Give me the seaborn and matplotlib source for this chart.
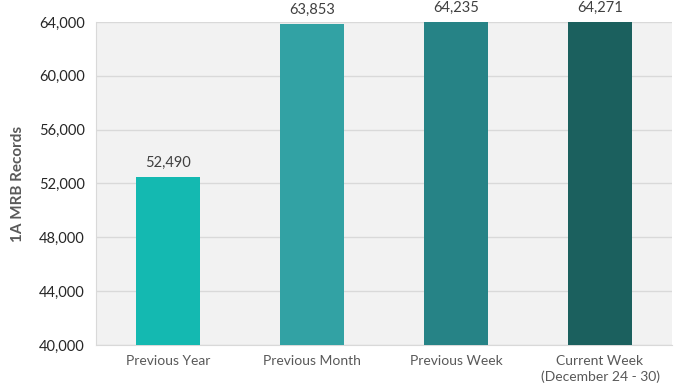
import numpy as np
import pandas as pd
import matplotlib
matplotlib.use("Agg")
import matplotlib.pyplot as plt
import seaborn as sns

categories = ["Previous Year", "Previous Month", "Previous Week", "Current Week\n(December 24 - 30)"]
records = [52490, 63853, 64235, 64271]
colors = ["#14b9b1", "#32a2a4", "#268386", "#1b605e"]
yticks = [40000, 44000, 48000, 52000, 56000, 60000, 64000]

sns.set_style("white")
plt.rcParams['font.family'] = ['Lato', 'DejaVu Sans']

df = pd.DataFrame({"cat": categories, "val": records})

fig = plt.figure(figsize=(6.9, 3.92), dpi=100)
ax = fig.add_axes([0.139, 0.12, 0.835, 0.824])
ax.set_facecolor("#f2f2f2")

sns.barplot(data=df, x="cat", y="val", hue="cat", palette=colors, legend=False,
            width=0.45, saturation=1, linewidth=0, ax=ax, zorder=3)

ax.set_ylim(40000, 64000)
ax.set_yticks(yticks)
ax.set_yticklabels([f"{t:,}" for t in yticks], fontsize=10.5, color="#262626")
ax.set_xticks(range(len(categories)))
ax.set_xticklabels(categories, fontsize=10, color="#595959", linespacing=1.4)
ax.tick_params(axis="x", length=0, pad=7)
ax.tick_params(axis="y", length=0, pad=8)
ax.grid(axis="y", color="#d9d9d9", linewidth=1, zorder=0)
ax.set_axisbelow(True)
ax.set_xlabel("")
ax.set_ylabel("1A MRB Records", fontsize=11, color="#595959", fontweight="bold", labelpad=10)

for s in ["top", "right"]:
    ax.spines[s].set_visible(False)
ax.spines["left"].set_color("#d9d9d9")
ax.spines["bottom"].set_color("#d9d9d9")

for i, v in enumerate(records):
    top = min(v, 64000)
    ax.annotate(f"{v:,}", (i, top), xytext=(0, 5), textcoords="offset points",
                ha="center", va="bottom", fontsize=10.5, color="#404040", clip_on=False)

fig.savefig("out.png", dpi=100)
